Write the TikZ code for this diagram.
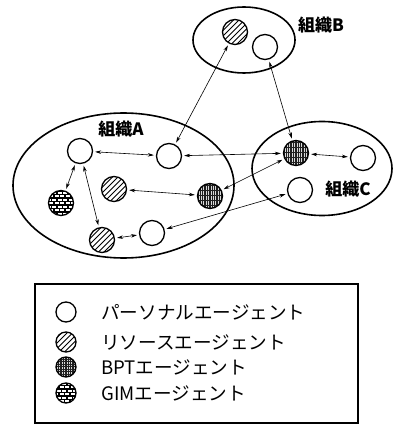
\documentclass[tikz,border=0pt]{standalone}
\usepackage{fontspec}
\newfontfamily\jp{Noto Sans CJK JP}
\usetikzlibrary{arrows.meta}
\tikzset{
  agent/.style={circle, draw, line width=1.3pt, minimum size=25pt, inner sep=0pt},
  small/.style={minimum size=20pt},
  personal/.style={agent, fill=white},
  resource/.style={agent, path picture={
      \foreach \i in {-30,-24.5,...,30}
        \draw[line width=1pt] ([xshift=\i pt]path picture bounding box.center) ++(-15pt,-15pt) -- ++(30pt,30pt);}},
  bpt/.style={agent, path picture={
      \fill[black!88] (path picture bounding box.south west) rectangle (path picture bounding box.north east);
      \foreach \i in {-11,-8.6,...,11}
        \draw[white!85!black, line width=0.7pt, dash pattern=on 1.6pt off 0.9pt]
          ([xshift=\i pt]path picture bounding box.north) -- ([xshift=\i pt]path picture bounding box.south);}},
  gim/.style={agent, path picture={
      \fill[black] (path picture bounding box.south west) rectangle (path picture bounding box.north east);
      \foreach \r in {0,...,7} \foreach \c in {0,...,5}
        \fill[white] ([shift={({(\c*5.5-2+mod(\r,2)*2.75)*1pt},{(\r*3.5+0.7)*1pt})}]path picture bounding box.south west) rectangle ++(4.2pt,2.1pt);}},
  org/.style={draw, line width=1.6pt},
  orglabel/.style={font=\jp\bfseries\fontsize{17}{17}\selectfont, inner sep=0pt},
  legtext/.style={anchor=west, font=\jp\fontsize{18.6}{18.6}\selectfont, inner sep=0pt},
  link/.style={{Stealth[length=6pt,width=3.5pt]}-{Stealth[length=6pt,width=3.5pt]}, line width=0.6pt, shorten <=2pt, shorten >=2pt}
}
\begin{document}
\begin{tikzpicture}[x=1pt,y=-1pt]
\useasboundingbox (0,0) rectangle (393,427);
% organisations
\draw[org] (244,40) ellipse [x radius=51, y radius=33];
\draw[org] (123.5,185.5) ellipse [x radius=110.5, y radius=72.5];
\draw[org] (322,168.5) ellipse [x radius=70, y radius=47];
\node[orglabel] (lb) at (321,25) {組織B};
\node[orglabel] (la) at (121,129) {組織A};
\node[orglabel] (lc) at (348,189) {組織C};
% agents
\node[resource] (rb) at (235,32) {};
\node[personal] (pb) at (265,47) {};
\node[personal] (p1) at (80,151) {};
\node[personal] (p2) at (169,156) {};
\node[resource] (r1) at (114,189) {};
\node[bpt] (b1) at (210,196) {};
\node[gim] (g1) at (61,203) {};
\node[resource] (r2) at (102,240) {};
\node[personal] (p3) at (152,233) {};
\node[bpt] (b2) at (296,153) {};
\node[personal] (p4) at (363,158) {};
\node[personal] (p5) at (300,190) {};
% links
\draw[link] (rb) -- (p2);
\draw[link] (pb) -- (b2);
\draw[link] (p1) -- (p2);
\draw[link] (p1) -- (g1);
\draw[link] (p1) -- (r2);
\draw[link] (r1) -- (b1);
\draw[link] (r2) -- (p3);
\draw[link] (b2) -- (p2);
\draw[link] (b2) -- (b1);
\draw[link] (p5) -- (p3);
\draw[link] (b2) -- (p4);
% legend
\draw[line width=1.2pt] (35,284) rectangle (358,423);
\draw[line width=2pt] (35,284) -- (358,284);
\node[personal, small] (lp) at (66,312) {};
\node[resource, small] (lr) at (66,342) {};
\node[bpt, small] (lbp) at (66,367) {};
\node[gim, small] (lg) at (66,393) {};
\node[legtext] (tp) at (101,312) {パーソナルエージェント};
\node[legtext] (tr) at (101,342) {リソースエージェント};
\node[legtext] (tb) at (101,367) {BPTエージェント};
\node[legtext] (tg) at (101,393) {GIMエージェント};
\end{tikzpicture}
\end{document}
